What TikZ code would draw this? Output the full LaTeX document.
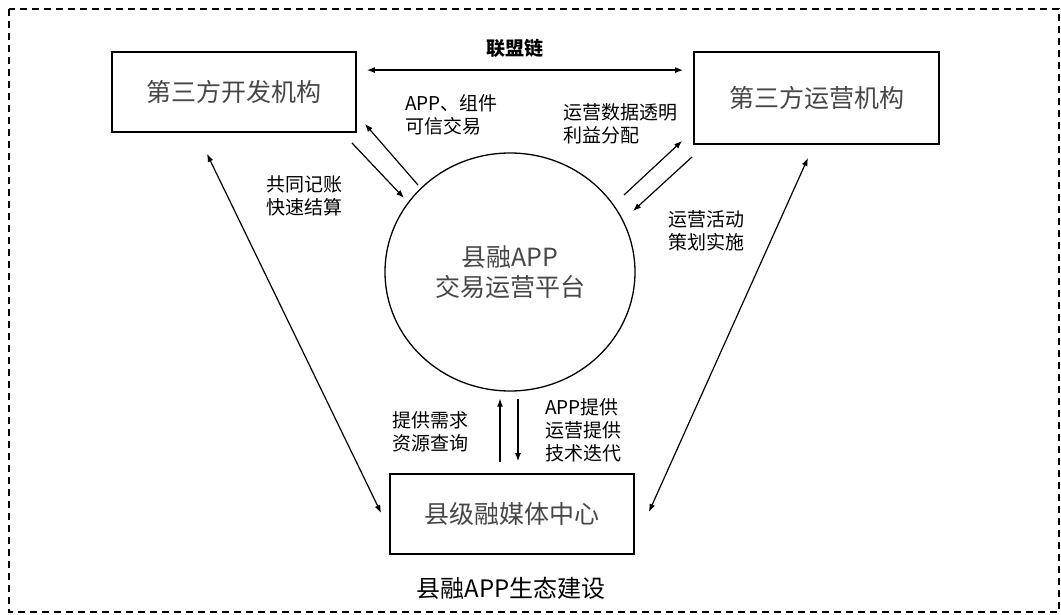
\documentclass[tikz,border=0pt]{standalone}
\usepackage{fontspec}
\setmainfont{Noto Sans CJK SC}
\usetikzlibrary{arrows.meta,calc,shapes.geometric}
\begin{document}
\begin{tikzpicture}[x=1pt,y=-1pt,
  box/.style={draw,line width=1.8pt,minimum width=244pt,minimum height=80pt,inner sep=0pt,
    text=black!72,font=\fontsize{25}{29}\selectfont},
  plat/.style={draw,ellipse,line width=1.3pt,minimum width=250pt,minimum height=238pt,inner sep=0pt,
    text=black!72,align=center,font=\fontsize{25}{30}\selectfont},
  lbl/.style={anchor=west,align=left,inner sep=0pt,font=\fontsize{19}{23}\selectfont},
  arr/.style={line width=1.2pt,-{Latex[length=8pt,width=6pt]}},
  darr/.style={line width=1.2pt,{Latex[length=8pt,width=6pt]}-{Latex[length=8pt,width=6pt]}}]
\useasboundingbox (0,0) rectangle (1061,615);
\draw[line width=1.3pt,dash pattern=on 7pt off 5pt] (9,9) rectangle (1059,612);

\node[box] (dev) at (234,92) {第三方开发机构};
\node[box,minimum width=245pt,minimum height=92pt] (ops) at (816.5,98) {第三方运营机构};
\node[box] (media) at (512,514) {县级融媒体中心};
\node[plat] (plat) at (510,272) {县融APP\\交易运营平台};

\node[font=\fontsize{19}{23}\selectfont\bfseries] (chain) at (515,48) {联盟链};
\node[font=\fontsize{24}{28}\selectfont] (title) at (511,588) {县融APP生态建设};

\node[lbl] (l1) at (405,115) {APP、组件\\可信交易};
\node[lbl] (l2) at (563,124) {运营数据透明\\利益分配};
\node[lbl] (l3) at (266,196) {共同记账\\快速结算};
\node[lbl] (l4) at (668,231) {运营活动\\策划实施};
\node[lbl] (l5) at (392,432) {提供需求\\资源查询};
\node[lbl] (l6) at (545,430) {APP提供\\运营提供\\技术迭代};

% alliance chain
\draw[darr] ($(dev.north east)+(10,19)$) -- ($(ops.north west)+(-10,19)$);
% platform <-> developer
\draw[arr] ($(plat.center)+(-92,-87)$) -- ($(dev.south east)+(8,-9)$);
\draw[arr] ($(dev.south east)+(-5,10)$) -- ($(plat.center)+(-106,-74)$);
% platform <-> operator
\draw[arr] ($(plat.center)+(114,-77)$) -- ($(ops.south west)+(-11,-4)$);
\draw[arr] ($(ops.south west)+(-1,12)$) -- ($(plat.center)+(123,-61)$);
% platform <-> media
\draw[arr] ($(media.north)+(-12,-11)$) -- ($(plat.south)+(-10,7)$);
\draw[arr] ($(plat.south)+(8,7)$) -- ($(media.north)+(6,-12)$);
% long arrows
\draw[darr] ($(dev.south)+(-27,21)$) -- ($(media.west)+(-8,-1)$);
\draw[darr] ($(ops.south)+(-8.5,13)$) -- ($(media.east)+(14,-2)$);
\end{tikzpicture}
\end{document}
